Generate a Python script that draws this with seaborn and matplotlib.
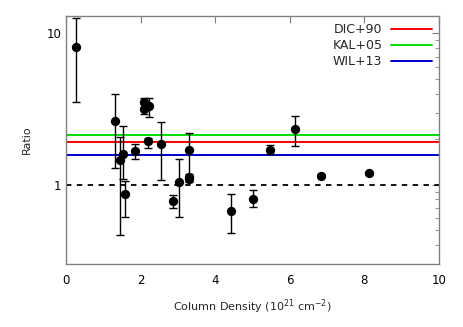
import matplotlib
matplotlib.use("Agg")
import matplotlib.pyplot as plt
import seaborn as sns
import numpy as np
import pandas as pd
from matplotlib.ticker import LogLocator, NullFormatter, FixedLocator, FixedFormatter

# Data
col_density = [0.27, 1.32, 1.45, 1.52, 1.59, 1.85, 2.10, 2.10, 2.24, 2.20, 2.55, 2.86, 3.04,
               3.30, 3.30, 3.30, 4.44, 5.01, 5.47, 6.14, 6.85, 8.12]
ratio = [8.15, 2.63, 1.46, 1.59, 0.87, 1.67, 3.53, 3.16, 3.31, 1.94, 1.85, 0.78, 1.04,
         1.69, 1.13, 1.09, 0.67, 0.81, 1.71, 2.33, 1.15, 1.19]
ratio_lo = [3.53, 1.29, 0.465, 1.10, 0.61, 1.47, 3.25, 2.95, 2.79, 1.76, 1.07, 0.705, 0.614,
            1.15, 1.07, 1.05, 0.477, 0.71, 1.60, 1.80, 1.12, 1.16]
ratio_hi = [12.7, 3.96, 2.07, 2.44, 1.06, 1.85, 3.76, 3.40, 3.76, 2.04, 2.61, 0.855, 1.47,
            2.20, 1.17, 1.12, 0.864, 0.92, 1.83, 2.86, 1.18, 1.22]

ref_labels = ["DIC+90", "KAL+05", "WIL+13"]
ref_values = [1.92, 2.13, 1.57]
ref_colors = ["#ff0000", "#00e000", "#0000cc"]

df = pd.DataFrame({"x": col_density, "y": ratio, "lo": ratio_lo, "hi": ratio_hi})

sns.set_style("white")
plt.rcParams["font.family"] = ["DejaVu Sans"]

fig = plt.figure(figsize=(4.63, 3.27), dpi=100)
ax = fig.add_axes([0.1425, 0.1927, 0.805, 0.758])

for lab, val, c in zip(ref_labels, ref_values, ref_colors):
    ax.axhline(val, color=c, lw=1.4, label=lab, zorder=2)
ax.axhline(1.0, color="black", lw=1.3, ls=(0, (3, 3)), zorder=2)

yerr = np.vstack([df["y"] - df["lo"], df["hi"] - df["y"]])
ax.errorbar(df["x"], df["y"], yerr=yerr, fmt="none", ecolor="black", elinewidth=1.0,
            capsize=3, capthick=1.0, zorder=3)
sns.scatterplot(data=df, x="x", y="y", ax=ax, color="black", s=45, edgecolor="black",
                linewidth=0, zorder=4, legend=False)

ax.set_yscale("log")
ax.set_xlim(0, 10)
ax.set_ylim(0.3, 13)
ax.set_xticks([0, 2, 4, 6, 8, 10])
ax.yaxis.set_major_locator(FixedLocator([1, 10]))
ax.yaxis.set_major_formatter(FixedFormatter(["1", "10"]))
ax.yaxis.set_minor_locator(LogLocator(base=10, subs=np.arange(2, 10)))
ax.yaxis.set_minor_formatter(NullFormatter())

for s in ax.spines.values():
    s.set_color("#808080")
    s.set_linewidth(1.0)
ax.tick_params(which="both", direction="in", top=True, right=True, colors="#808080",
               labelcolor="black", labelsize=8.5)
ax.tick_params(which="major", length=5, width=0.8)
ax.tick_params(which="minor", length=3, width=0.6)
ax.tick_params(axis="x", pad=7)

ax.set_xlabel("Column Density (10$^{21}$ cm$^{-2}$)", fontsize=8, labelpad=8)
ax.set_ylabel("Ratio", fontsize=8, labelpad=10)

leg = ax.legend(loc="upper right", frameon=False, markerfirst=False, fontsize=9,
                handlelength=3.3, labelspacing=0.25, borderaxespad=0.15, borderpad=0.4,
                handletextpad=0.65)

fig.savefig("out.png", dpi=100)
